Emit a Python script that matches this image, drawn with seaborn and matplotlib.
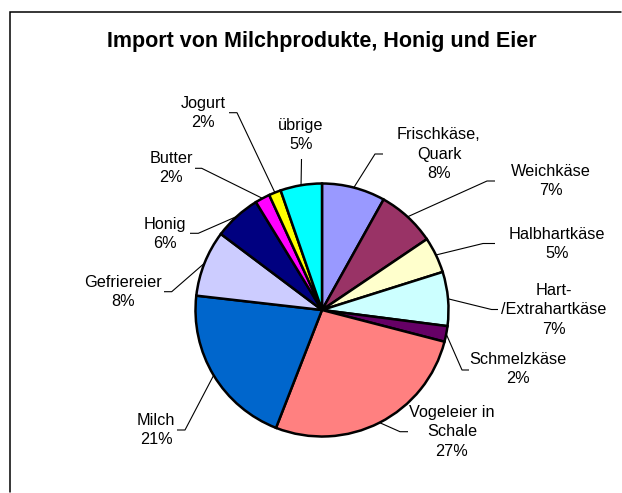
import matplotlib
matplotlib.use("Agg")
import matplotlib.pyplot as plt
import seaborn as sns
import numpy as np

# chart data
title = "Import von Milchprodukte, Honig und Eier"
categories = ["Frischkäse,\nQuark", "Weichkäse", "Halbhartkäse", "Hart-\n/Extrahartkäse",
              "Schmelzkäse", "Vogeleier in\nSchale", "Milch", "Gefriereier", "Honig",
              "Butter", "Jogurt", "übrige"]
shares = [8.1, 7.45, 4.6, 6.9, 2.0, 26.9, 20.9, 8.45, 6.0, 1.9, 1.55, 5.3]
slice_colors = ["#9999FF", "#993366", "#FFFFCC", "#CCFFFF", "#660066", "#FF8080",
                "#0066CC", "#CCCCFF", "#000080", "#FF00FF", "#FFFF00", "#00FFFF"]

# layout (image pixels, y downwards)
W, H = 622, 493
pie_center = (322, 310)
pie_radius = 126.5
label_pos = [(439, 154), (551, 181), (557, 244), (554, 310), (518, 369), (452, 432),
             (156, 430), (123, 292), (165, 234), (171, 168), (203, 113), (301, 135)]
# leader elbow (x, y) and the end of the short horizontal stub
leader_elbow = [(375, 154, 383), (487, 181, 495), (483, 243.5, 495), (491.5, 309.5, 498),
                (462, 370, 469), (400, 431.7, 408), (185, 430, 177), (171.7, 291.7, 164),
                (198.3, 233.3, 190), (201.7, 168.3, 195), (237, 112.7, 229), (301.5, 159, 301.5)]

sns.set_theme(style="white")
plt.rcParams['font.family'] = ['Liberation Sans', 'DejaVu Sans']

fig = plt.figure(figsize=(W / 100, H / 100), dpi=100)
ax = fig.add_axes([0, 0, 1, 1])

palette = sns.color_palette(slice_colors)
wedges, _ = ax.pie(shares, colors=palette, startangle=-90, counterclock=True,
                   center=pie_center, radius=pie_radius,
                   wedgeprops=dict(edgecolor='black', linewidth=1.8))

ax.set_xlim(0, W)
ax.set_ylim(H, 0)
ax.set_aspect('equal')
ax.axis('off')

total = sum(shares)
for i, (w, cat) in enumerate(zip(wedges, categories)):
    pct = shares[i] / total * 100
    lx, ly = label_pos[i]
    ax.text(lx, ly, f"{cat}\n{pct:.0f}%", ha='center', va='center', fontsize=11.7,
            linespacing=1.35, color='black')

    # leader line from the wedge edge to the label
    mid = np.deg2rad((w.theta1 + w.theta2) / 2)
    ex = pie_center[0] + pie_radius * np.cos(mid)
    ey = pie_center[1] + pie_radius * np.sin(mid)
    bx, by, sx = leader_elbow[i]
    ax.plot([ex, bx, sx], [ey, by, by], color='black', linewidth=0.8,
            solid_capstyle='butt')

ax.text(322, 41, title, ha='center', va='center', fontsize=15.5, fontweight='bold',
        color='black')

# chart frame: only the top and left edges fall inside the picture
ax.plot([10, 10, W - 1], [H - 1, 11.5, 11.5], color='black', linewidth=1.1,
        solid_joinstyle='miter', clip_on=False)

fig.savefig("out.png", dpi=100)
plt.close()
